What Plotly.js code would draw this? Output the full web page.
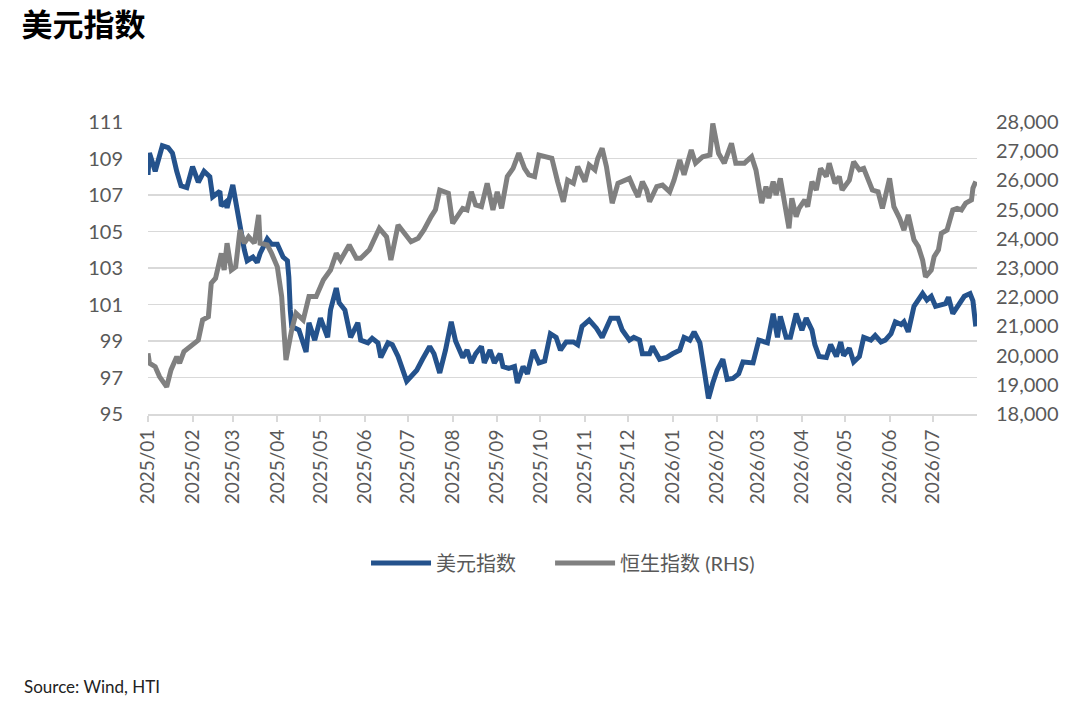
<!DOCTYPE html>
<html>
<head>
<meta charset="utf-8">
<script src="https://cdn.plot.ly/plotly-3.0.1.min.js"></script>
<style>
  html, body { margin: 0; padding: 0; background: #fff; }
  #chart { width: 1080px; height: 711px; }
</style>
</head>
<body>
<div id="chart"></div>
<script>
// 美元指数 (left axis)
var usdDates = [
  '2025-01-01','2025-01-02','2025-01-06','2025-01-11','2025-01-15','2025-01-18','2025-01-21','2025-01-24','2025-01-28',
  '2025-02-01','2025-02-05','2025-02-09','2025-02-13','2025-02-15','2025-02-20','2025-02-21','2025-02-24','2025-02-25',
  '2025-03-01','2025-03-03','2025-03-06','2025-03-09','2025-03-11','2025-03-15','2025-03-18','2025-03-20','2025-03-25','2025-03-28',
  '2025-04-01','2025-04-05','2025-04-08','2025-04-09','2025-04-10','2025-04-11','2025-04-16','2025-04-21','2025-04-23','2025-04-27',
  '2025-05-01','2025-05-06','2025-05-08','2025-05-12','2025-05-14','2025-05-18','2025-05-22','2025-05-27','2025-05-29',
  '2025-06-03','2025-06-06','2025-06-10','2025-06-12','2025-06-17','2025-06-20','2025-06-24','2025-06-30',
  '2025-07-07','2025-07-11','2025-07-16','2025-07-19','2025-07-23','2025-07-27','2025-07-31',
  '2025-08-03','2025-08-08','2025-08-11','2025-08-14','2025-08-17','2025-08-21','2025-08-23','2025-08-27','2025-08-30',
  '2025-09-03','2025-09-05','2025-09-09','2025-09-13','2025-09-15','2025-09-19','2025-09-22','2025-09-26','2025-09-30',
  '2025-10-04','2025-10-08','2025-10-12','2025-10-15','2025-10-19','2025-10-24','2025-10-27','2025-10-30',
  '2025-11-04','2025-11-09','2025-11-13','2025-11-19','2025-11-24','2025-11-27',
  '2025-12-02','2025-12-05','2025-12-09','2025-12-11','2025-12-16','2025-12-18','2025-12-23','2025-12-28',
  '2026-01-01','2026-01-06','2026-01-09','2026-01-13','2026-01-16','2026-01-20','2026-01-23','2026-01-26','2026-01-29',
  '2026-02-01','2026-02-05','2026-02-08','2026-02-12','2026-02-16','2026-02-19','2026-02-26',
  '2026-03-02','2026-03-08','2026-03-12','2026-03-15','2026-03-17','2026-03-21','2026-03-24','2026-03-28',
  '2026-04-01','2026-04-04','2026-04-08','2026-04-10','2026-04-13','2026-04-18','2026-04-21','2026-04-25','2026-04-28','2026-04-30',
  '2026-05-04','2026-05-07','2026-05-11','2026-05-14','2026-05-19','2026-05-22','2026-05-26','2026-05-29',
  '2026-06-02','2026-06-05','2026-06-09','2026-06-11','2026-06-14','2026-06-18','2026-06-24','2026-06-27','2026-06-30',
  '2026-07-03','2026-07-10','2026-07-12','2026-07-15','2026-07-18','2026-07-23','2026-07-27','2026-07-29','2026-07-31'
];
var usdValues = [
  108.1, 109.3, 108.3, 109.7, 109.6, 109.3, 108.3, 107.5, 107.4,
  108.55, 107.7, 108.3, 108.0, 106.9, 107.2, 106.4, 106.6, 106.3,
  107.55, 106.7, 105.1, 104.0, 103.4, 103.6, 103.3, 103.8, 104.6, 104.3,
  104.3, 103.6, 103.4, 102.5, 100.7, 99.8, 99.6, 98.4, 100.0, 99.05,
  100.25, 99.2, 100.7, 101.9, 101.1, 100.7, 99.2, 100.0, 99.05,
  98.9, 99.15, 98.9, 98.1, 98.9, 98.8, 98.15, 96.8,
  97.4, 98.0, 98.7, 98.3, 97.25, 98.5, 100.05,
  99.0, 98.1, 98.5, 97.8, 98.3, 98.7, 97.8, 98.5, 97.8,
  98.3, 97.6, 97.5, 97.6, 96.7, 97.6, 97.2, 98.5, 97.8,
  97.9, 99.4, 99.2, 98.5, 98.95, 98.95, 98.8, 99.8,
  100.15, 99.7, 99.2, 100.25, 100.25, 99.6,
  99.05, 99.2, 99.05, 98.3, 98.3, 98.7, 98.0, 98.1,
  98.3, 98.5, 99.2, 99.05, 99.5, 98.9, 97.4, 95.85, 96.7,
  97.4, 98.0, 96.9, 96.95, 97.2, 97.85, 97.8,
  99.05, 98.9, 100.5, 99.2, 100.35, 99.2, 99.2, 100.5,
  99.6, 100.25, 99.6, 98.8, 98.15, 98.1, 98.8, 98.15, 98.95, 98.2,
  98.6, 97.85, 98.15, 99.2, 99.05, 99.3, 98.95, 99.05,
  99.4, 100.05, 99.9, 100.05, 99.5, 100.9, 101.6, 101.25, 101.45,
  100.9, 101.05, 101.4, 100.5, 100.9, 101.45, 101.6, 101.2, 99.8
];

// 恒生指数 (right axis)
var hsiDates = [
  '2025-01-01','2025-01-02','2025-01-06','2025-01-09','2025-01-14','2025-01-17','2025-01-21','2025-01-23','2025-01-26','2025-01-31',
  '2025-02-05','2025-02-08','2025-02-12','2025-02-14','2025-02-17','2025-02-21','2025-02-23','2025-02-25','2025-02-28',
  '2025-03-03','2025-03-06','2025-03-09','2025-03-12','2025-03-16','2025-03-19','2025-03-20','2025-03-25','2025-03-28',
  '2025-04-01','2025-04-04','2025-04-07','2025-04-11','2025-04-14','2025-04-19','2025-04-23','2025-04-28',
  '2025-05-03','2025-05-08','2025-05-12','2025-05-15','2025-05-21','2025-05-26','2025-05-29',
  '2025-06-04','2025-06-11','2025-06-16','2025-06-19','2025-06-24','2025-06-30',
  '2025-07-03','2025-07-08','2025-07-12','2025-07-17','2025-07-20','2025-07-23','2025-07-29',
  '2025-08-01','2025-08-05','2025-08-08','2025-08-11','2025-08-14','2025-08-17','2025-08-21','2025-08-25','2025-08-29',
  '2025-09-01','2025-09-04','2025-09-08','2025-09-12','2025-09-16','2025-09-20','2025-09-23','2025-09-27','2025-09-30',
  '2025-10-05','2025-10-09','2025-10-13','2025-10-17','2025-10-20','2025-10-24','2025-10-27',
  '2025-11-01','2025-11-04','2025-11-08','2025-11-10','2025-11-13','2025-11-16','2025-11-18','2025-11-20','2025-11-24','2025-11-27',
  '2025-12-02','2025-12-05','2025-12-08','2025-12-11','2025-12-14','2025-12-16','2025-12-21','2025-12-25','2025-12-30',
  '2026-01-02','2026-01-06','2026-01-09','2026-01-14','2026-01-17','2026-01-22','2026-01-27','2026-01-29',
  '2026-02-02','2026-02-06','2026-02-11','2026-02-14','2026-02-20','2026-02-25','2026-02-28',
  '2026-03-04','2026-03-07','2026-03-09','2026-03-12','2026-03-14','2026-03-17','2026-03-20','2026-03-23','2026-03-25','2026-03-28','2026-03-30',
  '2026-04-03','2026-04-05','2026-04-08','2026-04-11','2026-04-14','2026-04-18','2026-04-20','2026-04-24','2026-04-27','2026-04-29',
  '2026-05-04','2026-05-07','2026-05-11','2026-05-14','2026-05-18','2026-05-20','2026-05-24','2026-05-27','2026-05-29',
  '2026-06-01','2026-06-04','2026-06-08','2026-06-11','2026-06-14','2026-06-18','2026-06-21','2026-06-24','2026-06-26','2026-06-30',
  '2026-07-02','2026-07-05','2026-07-07','2026-07-11','2026-07-15','2026-07-18','2026-07-21','2026-07-24','2026-07-28','2026-07-29','2026-07-31'
];
var hsiValues = [
  20080, 19740, 19620, 19280, 18930, 19510, 19960, 19740, 20140, 20310,
  20530, 21220, 21330, 22480, 22650, 23500, 22930, 23850, 22930,
  23040, 24300, 23850, 24070, 23850, 24820, 23850, 23790, 23500,
  23040, 22020, 19850, 20880, 21450, 21220, 22020, 22020,
  22590, 22930, 23500, 23270, 23790, 23330, 23330,
  23620, 24360, 24070, 23270, 24470, 24130,
  23900, 24020, 24300, 24760, 24990, 25670, 25560,
  24530, 24870, 25040, 24990, 25610, 25160, 25100, 25900, 24990,
  25610, 25040, 26130, 26410, 26930, 26410, 26190, 26130, 26870,
  26810, 26760, 25960, 25270, 26010, 25900, 26470,
  25960, 26530, 26360, 26760, 27100, 26470, 25900, 25220, 25900, 25960,
  26070, 25730, 25440, 25960, 25670, 25270, 25790, 25840, 25610,
  26010, 26700, 26190, 27040, 26590, 26810, 26870, 27950,
  26930, 26590, 27270, 26590, 26590, 26810, 26360,
  25220, 25790, 25390, 25960, 25500, 26070, 25220, 24360, 25390, 24760, 25040,
  25330, 25100, 25960, 25670, 26410, 26130, 26590, 25900, 26130, 25670,
  26010, 26640, 26360, 26410, 25840, 25670, 25610, 25040, 25440,
  26070, 25100, 24700, 24300, 24820, 23960, 23730, 23270, 22700, 22930,
  23390, 23620, 24190, 24300, 24990, 25040, 24990, 25220, 25330, 25730, 25960
];

var seriesNames = ['美元指数', '恒生指数 (RHS)'];

var baseFont = "Lato, 'Noto Sans CJK SC', sans-serif";

var traceUsd = {
  x: usdDates,
  y: usdValues,
  type: 'scatter',
  mode: 'lines',
  name: seriesNames[0],
  line: {color: '#24528c', width: 5},
  yaxis: 'y',
  legend: 'legend'
};

var traceHsi = {
  x: hsiDates,
  y: hsiValues,
  type: 'scatter',
  mode: 'lines',
  name: seriesNames[1],
  line: {color: '#808080', width: 5},
  yaxis: 'y2',
  legend: 'legend2'
};

// one legend box per series so each sits where the reference has it
var legendStyle = function (x) {
  return {
    orientation: 'h',
    itemwidth: 60,
    x: x,
    xanchor: 'left',
    y: -0.51,
    yanchor: 'middle',
    font: {size: 20, color: '#595959'},
    bgcolor: 'rgba(0,0,0,0)'
  };
};

var layout = {
  width: 1080,
  height: 711,
  margin: {l: 148, r: 103, t: 122, b: 297},
  paper_bgcolor: '#ffffff',
  plot_bgcolor: '#ffffff',
  font: {family: baseFont, color: '#595959', size: 19},
  showlegend: true,
  title: {
    text: '美元指数',
    font: {family: "'Noto Sans CJK SC', sans-serif", size: 31, color: '#000000', weight: 'bold'},
    xref: 'container', yref: 'container',
    x: 0.02, xanchor: 'left',
    y: 0.965, yanchor: 'middle'
  },
  xaxis: {
    type: 'date',
    range: ['2025-01-01', '2026-07-31 20:00'],
    tick0: '2025-01-01',
    dtick: 'M1',
    tickformat: '%Y/%m',
    tickangle: -90,
    ticks: 'outside',
    ticklen: 6,
    tickwidth: 2,
    tickcolor: '#d9d9d9',
    showline: true,
    linecolor: '#d9d9d9',
    linewidth: 2,
    showgrid: false,
    zeroline: false,
    tickfont: {size: 19, color: '#595959'}
  },
  yaxis: {
    range: [95, 111],
    tick0: 95,
    dtick: 2,
    showgrid: true,
    gridcolor: '#d9d9d9',
    gridwidth: 1.5,
    zeroline: false,
    showline: false,
    ticks: '',
    ticklabelstandoff: 24,
    tickfont: {size: 20, color: '#595959'}
  },
  yaxis2: {
    range: [18000, 28000],
    tick0: 18000,
    dtick: 1000,
    tickformat: ',d',
    overlaying: 'y',
    side: 'right',
    showgrid: false,
    zeroline: false,
    showline: false,
    ticks: '',
    ticklabelstandoff: 18,
    tickfont: {size: 20, color: '#595959'}
  },
  legend: legendStyle(0.263),
  legend2: legendStyle(0.485),
  annotations: [{
    text: 'Source: Wind, HTI',
    xref: 'paper', yref: 'paper',
    x: -0.152, xanchor: 'left',
    y: -0.932, yanchor: 'middle',
    showarrow: false,
    font: {size: 17, color: '#222222'}
  }]
};

Plotly.newPlot('chart', [traceUsd, traceHsi], layout, {displayModeBar: false, staticPlot: true});
</script>
</body>
</html>
